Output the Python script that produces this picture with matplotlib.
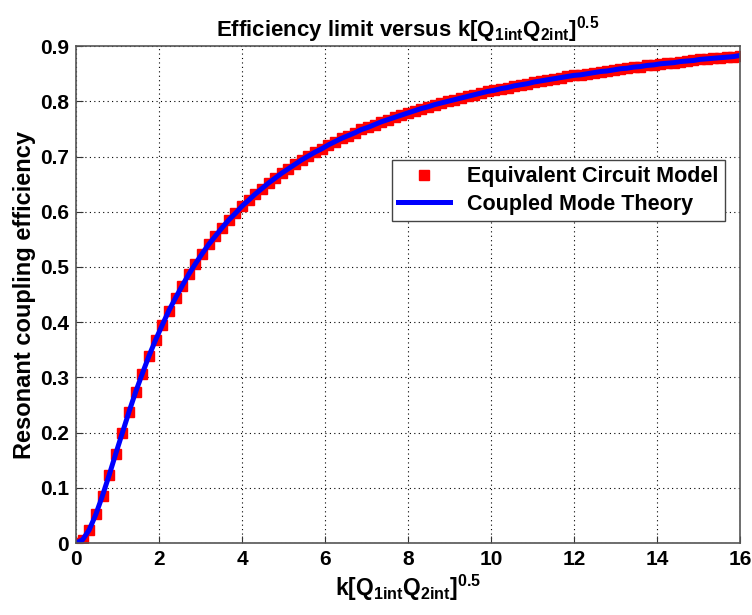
import matplotlib

matplotlib.use("Agg")
import matplotlib.pyplot as plt

# k*sqrt(Q1int*Q2int) samples and the efficiency
kq = [0.00, 0.16, 0.32, 0.48, 0.64, 0.80, 0.96, 1.12, 1.28, 1.44,
      1.60, 1.76, 1.92, 2.08, 2.24, 2.40, 2.56, 2.72, 2.88, 3.04,
      3.20, 3.36, 3.52, 3.68, 3.84, 4.00, 4.16, 4.32, 4.48, 4.64,
      4.80, 4.96, 5.12, 5.28, 5.44, 5.60, 5.76, 5.92, 6.08, 6.24,
      6.40, 6.56, 6.72, 6.88, 7.04, 7.20, 7.36, 7.52, 7.68, 7.84,
      8.00, 8.16, 8.32, 8.48, 8.64, 8.80, 8.96, 9.12, 9.28, 9.44,
      9.60, 9.76, 9.92, 10.08, 10.24, 10.40, 10.56, 10.72, 10.88, 11.04,
      11.20, 11.36, 11.52, 11.68, 11.84, 12.00, 12.16, 12.32, 12.48, 12.64,
      12.80, 12.96, 13.12, 13.28, 13.44, 13.60, 13.76, 13.92, 14.08, 14.24,
      14.40, 14.56, 14.72, 14.88, 15.04, 15.20, 15.36, 15.52, 15.68, 15.84,
      16.00]
eff = [0.000, 0.006, 0.024, 0.052, 0.086, 0.123, 0.162, 0.200, 0.238, 0.274,
       0.307, 0.339, 0.368, 0.395, 0.421, 0.444, 0.466, 0.487, 0.506, 0.524,
       0.541, 0.556, 0.571, 0.585, 0.597, 0.610, 0.621, 0.632, 0.642, 0.652,
       0.661, 0.670, 0.678, 0.686, 0.694, 0.701, 0.708, 0.714, 0.721, 0.727,
       0.733, 0.738, 0.743, 0.749, 0.753, 0.758, 0.763, 0.767, 0.771, 0.775,
       0.779, 0.783, 0.787, 0.790, 0.794, 0.797, 0.800, 0.803, 0.806, 0.809,
       0.812, 0.815, 0.818, 0.820, 0.823, 0.825, 0.828, 0.830, 0.832, 0.835,
       0.837, 0.839, 0.841, 0.843, 0.845, 0.847, 0.848, 0.850, 0.852, 0.854,
       0.855, 0.857, 0.859, 0.860, 0.862, 0.863, 0.865, 0.866, 0.868, 0.869,
       0.870, 0.872, 0.873, 0.874, 0.876, 0.877, 0.878, 0.879, 0.880, 0.881,
       0.883]

xticks = [0, 2, 4, 6, 8, 10, 12, 14, 16]
yticks = [0, 0.1, 0.2, 0.3, 0.4, 0.5, 0.6, 0.7, 0.8, 0.9]
ytick_labels = ["0", "0.1", "0.2", "0.3", "0.4", "0.5", "0.6", "0.7", "0.8", "0.9"]

plt.rcParams["font.family"] = ["Liberation Sans", "DejaVu Sans"]
plt.rcParams["font.weight"] = "bold"
plt.rcParams["mathtext.fontset"] = "custom"
plt.rcParams["mathtext.rm"] = "Liberation Sans:bold"
plt.rcParams["mathtext.it"] = "Liberation Sans:bold"
plt.rcParams["mathtext.bf"] = "Liberation Sans:bold"

fig = plt.figure(figsize=(7.52, 6.15), dpi=100)
ax = fig.add_axes([0.101, 0.117, 0.883, 0.808])

ax.plot(kq, eff, "s", color="red", ms=7, mec="red", label="Equivalent Circuit Model")
ax.plot(kq, eff, "-", color="blue", lw=3.6, label="Coupled Mode Theory")

ax.set_xlim(0, 16)
ax.set_ylim(0, 0.9)
ax.set_xticks(xticks)
ax.set_yticks(yticks)
ax.set_yticklabels(ytick_labels)
ax.tick_params(direction="in", labelsize=15, length=5, color="#333333", pad=5)
ax.grid(True, color="black", ls=(0, (1, 3)), lw=0.8)
for side in ax.spines.values():
    side.set_color("#555555")
    side.set_linewidth(1.2)

label = r"k[Q$_{\mathrm{1int}}$Q$_{\mathrm{2int}}$]$^{0.5}$"
ax.set_xlabel(label, fontsize=16.5, fontweight="bold", labelpad=3)
ax.set_ylabel("Resonant coupling efficiency", fontsize=17, fontweight="bold", labelpad=3)
ax.set_title("Efficiency limit versus " + label, fontsize=16, fontweight="bold", pad=7)

leg = ax.legend(loc="upper right", bbox_to_anchor=(0.977, 0.771), borderaxespad=0,
                fontsize=15.5, fancybox=False, edgecolor="#444444", handlelength=2.4,
                numpoints=1, framealpha=1, borderpad=0.3, labelspacing=0.3)
leg.get_frame().set_linewidth(1.0)

fig.savefig("out.png", dpi=100)
